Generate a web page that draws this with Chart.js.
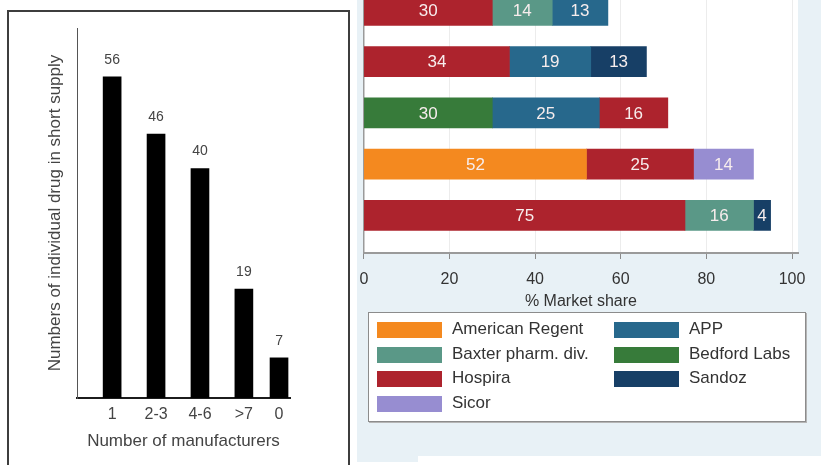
<!DOCTYPE html>
<html>
<head>
<meta charset="utf-8">
<script src="https://cdn.jsdelivr.net/npm/chart.js@4/dist/chart.umd.min.js"></script>
<style>
  html, body { margin: 0; padding: 0; width: 821px; height: 465px; overflow: hidden; background: #fff;
               font-family: "Liberation Sans", Arial, sans-serif; }
  #left-panel { position: absolute; left: 7px; top: 10px; width: 339px; height: 470px;
                border: 2px solid #3e3e3e; background: #fff; }
  #right-panel { position: absolute; left: 357px; top: 0; width: 464px; height: 456px; background: #e8f1f6; }
  #right-tab { position: absolute; left: 357px; top: 456px; width: 61px; height: 6px; background: #e8f1f6; }
  #manufacturers { position: absolute; left: 10px; top: 13px; }
  #share { position: absolute; left: 348px; top: 0; }
  #legend { position: absolute; left: 368px; top: 312px; width: 436px; height: 108px; background: #fff;
            border: 1px solid #8c8c8c; box-shadow: 1px 1px 0 #b5b5b5; }
  .legend-item { position: absolute; height: 16px; }
  .legend-item .swatch { position: absolute; left: 0; top: 0; width: 65px; height: 16px; }
  .legend-item .name { position: absolute; left: 75px; top: -3px; font-size: 17px; color: #333; white-space: nowrap; }
</style>
</head>
<body>
<div id="left-panel"></div>
<div id="right-panel"></div>
<div id="right-tab"></div>
<canvas id="manufacturers" width="338" height="452"></canvas>
<canvas id="share" width="473" height="314"></canvas>
<div id="legend"></div>

<script>
// ---- Drugs in short supply by number of manufacturers ----
const manufacturerGroups = ['1', '2-3', '4-6', '>7', '0'];
const drugCounts = [56, 46, 40, 19, 7];
// where each group sits along the x axis (the last group is set closer)
const groupSlots = [1, 2, 3, 4, 4.8];

// ---- Market share of the leading manufacturers, one row per drug ----
const firstShare  = [30, 34, 30, 52, 75];
const firstMaker  = ['Hospira', 'Hospira', 'Bedford Labs', 'American Regent', 'Hospira'];
const secondShare = [14, 19, 25, 25, 16];
const secondMaker = ['Baxter pharm. div.', 'APP', 'APP', 'Hospira', 'Baxter pharm. div.'];
const thirdShare  = [13, 13, 16, 14, 4];
const thirdMaker  = ['APP', 'Sandoz', 'Hospira', 'Sicor', 'Sandoz'];
const shareTicks  = [0, 20, 40, 60, 80, 100];

const makers = ['American Regent', 'APP', 'Baxter pharm. div.', 'Bedford Labs', 'Hospira', 'Sandoz', 'Sicor'];
const makerColors = {
  'American Regent': '#f4891f',
  'APP': '#27688c',
  'Baxter pharm. div.': '#5a9887',
  'Bedford Labs': '#377b3a',
  'Hospira': '#ad232d',
  'Sandoz': '#173f66',
  'Sicor': '#978dd1'
};

const FONT = '"Liberation Sans", Arial, sans-serif';

// numbers above the black bars
const countLabels = {
  id: 'countLabels',
  afterDatasetsDraw(chart) {
    const ctx = chart.ctx;
    const meta = chart.getDatasetMeta(0);
    ctx.save();
    ctx.font = '14px ' + FONT;
    ctx.fillStyle = '#444';
    ctx.textAlign = 'center';
    ctx.textBaseline = 'middle';
    meta.data.forEach((bar, i) => {
      ctx.fillText(String(drugCounts[i]), bar.x, bar.y - 17);
    });
    ctx.restore();
  }
};

new Chart(document.getElementById('manufacturers'), {
  type: 'bar',
  data: {
    datasets: [{
      data: groupSlots.map((s, i) => ({ x: s, y: drugCounts[i] })),
      backgroundColor: '#000',
      borderWidth: 0,
      barThickness: 18
    }]
  },
  options: {
    responsive: false,
    animation: false,
    layout: { padding: { top: 15, right: 58, left: 0, bottom: 0 } },
    plugins: { legend: { display: false }, tooltip: { enabled: false } },
    scales: {
      x: {
        type: 'linear', min: 0.2, max: 5.05, offset: false,
        afterBuildTicks: s => { s.ticks = groupSlots.map(v => ({ value: v })); },
        afterFit: s => { s.height = 67; },
        ticks: {
          callback: (v, i) => manufacturerGroups[i],
          font: { family: FONT, size: 16 }, color: '#444', padding: 7.4, maxRotation: 0, autoSkip: false
        },
        grid: { display: false, drawTicks: false, offset: false },
        border: { display: true, color: '#1c1c1c', width: 2 },
        title: { display: true, text: 'Number of manufacturers', color: '#444',
                 font: { family: FONT, size: 17 }, padding: { top: 0, bottom: 13.8 } }
      },
      y: {
        min: 0, max: 64.5,
        afterFit: s => { s.width = 67; },
        ticks: { display: false },
        grid: { display: false, drawTicks: false },
        border: { display: true, color: '#555', width: 1 },
        title: { display: true, text: 'Numbers of individual drug in short supply', color: '#444',
                 font: { family: FONT, size: 17 }, padding: { top: 34.8, bottom: 0 } }
      }
    }
  },
  plugins: [countLabels]
});

// white plotting region on the light blue page
const plotBackground = {
  id: 'plotBackground',
  beforeDraw(chart) {
    const { ctx, chartArea: a } = chart;
    ctx.save();
    ctx.fillStyle = '#fff';
    ctx.fillRect(a.left, a.top, a.right - a.left, a.bottom - a.top);
    ctx.restore();
  }
};

// share values written inside each segment
const shareLabels = {
  id: 'shareLabels',
  afterDatasetsDraw(chart) {
    const ctx = chart.ctx;
    ctx.save();
    ctx.font = '17px ' + FONT;
    ctx.fillStyle = '#f7eded';
    ctx.textAlign = 'center';
    ctx.textBaseline = 'middle';
    chart.data.datasets.forEach((ds, d) => {
      chart.getDatasetMeta(d).data.forEach((bar, i) => {
        ctx.fillText(String(ds.data[i].x), (bar.x + bar.base) / 2, bar.y + 1);
      });
    });
    ctx.restore();
  }
};

const segments = [
  { share: firstShare, maker: firstMaker },
  { share: secondShare, maker: secondMaker },
  { share: thirdShare, maker: thirdMaker }
];

new Chart(document.getElementById('share'), {
  type: 'bar',
  data: {
    datasets: segments.map(seg => ({
      data: seg.share.map((v, i) => ({ x: v, y: i })),
      backgroundColor: seg.maker.map(m => makerColors[m]),
      borderWidth: 0,
      barThickness: 30
    }))
  },
  options: {
    indexAxis: 'y',
    responsive: false,
    animation: false,
    layout: { padding: { top: 0, right: 23, left: 0, bottom: 0 } },
    plugins: { legend: { display: false }, tooltip: { enabled: false } },
    scales: {
      x: {
        stacked: true, min: 0, max: 101.4,
        afterBuildTicks: s => { s.ticks = shareTicks.map(v => ({ value: v })); },
        afterFit: s => { s.height = 61; },
        ticks: { font: { family: FONT, size: 16 }, color: '#333', padding: 11.4, maxRotation: 0 },
        grid: { color: '#ececec', tickColor: '#8a8a8a', tickLength: 6, lineWidth: 1 },
        border: { display: true, color: '#9a9a9a', width: 2 },
        title: { display: true, text: '% Market share', color: '#333',
                 font: { family: FONT, size: 16 }, padding: { top: 0, bottom: 2.4 } }
      },
      y: {
        type: 'linear', stacked: true, reverse: true, min: -0.205, max: 4.736, offset: false,
        afterFit: s => { s.width = 7; },
        ticks: { display: false },
        grid: { display: false, drawTicks: false, offset: false },
        border: { display: true, color: '#9a9a9a', width: 1.5 }
      }
    }
  },
  plugins: [plotBackground, shareLabels]
});

// legend: two columns, filled row by row
const legend = document.getElementById('legend');
makers.forEach((m, i) => {
  const item = document.createElement('div');
  item.className = 'legend-item';
  item.style.left = (i % 2 === 0 ? 8 : 245) + 'px';
  item.style.top = (9 + Math.floor(i / 2) * 24.6) + 'px';
  const sw = document.createElement('div');
  sw.className = 'swatch';
  sw.style.background = makerColors[m];
  const name = document.createElement('div');
  name.className = 'name';
  name.textContent = m;
  item.appendChild(sw);
  item.appendChild(name);
  legend.appendChild(item);
});
</script>
</body>
</html>
